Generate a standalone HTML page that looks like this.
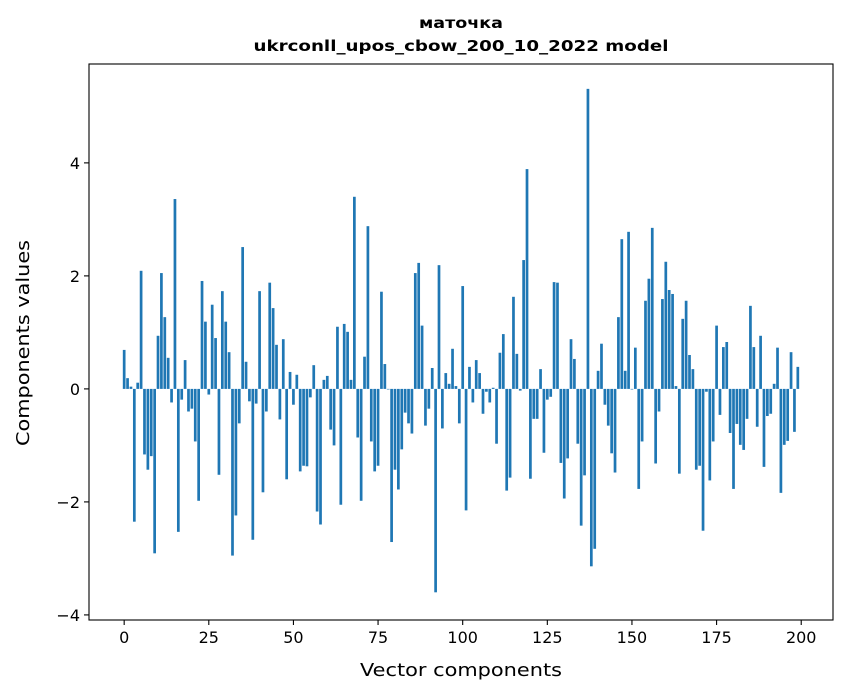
<!DOCTYPE html>
<html><head><meta charset="utf-8"><style>
body{margin:0;background:#fff;font-family:"DejaVu Sans","Liberation Sans",sans-serif;}
</style></head><body>
<svg id="chart" width="847" height="696" xmlns="http://www.w3.org/2000/svg" font-family="DejaVu Sans, Liberation Sans, sans-serif">
<rect width="847" height="696" fill="#fff"/>
<text x="461" y="28" text-anchor="middle" font-size="15" font-weight="bold" textLength="84" lengthAdjust="spacingAndGlyphs">маточка</text>
<text x="461" y="51" text-anchor="middle" font-size="15" font-weight="bold" textLength="415" lengthAdjust="spacingAndGlyphs">ukrconll_upos_cbow_200_10_2022 model</text>
<g id="bars"></g>
<g id="axes"></g>
<text x="461" y="676" text-anchor="middle" font-size="18" textLength="202" lengthAdjust="spacingAndGlyphs">Vector components</text>
<text transform="translate(29,343) rotate(-90)" text-anchor="middle" font-size="18" textLength="206" lengthAdjust="spacingAndGlyphs">Components values</text>
</svg>
<script>
const values = [0.69,0.19,0.04,-2.35,0.11,2.09,-1.16,-1.43,-1.19,-2.91,0.94,2.05,1.27,0.55,-0.24,3.36,-2.53,-0.19,0.51,-0.40,-0.35,-0.93,-1.98,1.91,1.19,
-0.10,1.49,0.90,-1.52,1.73,1.19,0.65,-2.95,-2.24,-0.61,2.51,0.48,-0.22,-2.67,-0.26,1.73,-1.83,-0.40,1.88,1.43,0.78,-0.54,0.88,-1.60,0.30,
-0.28,0.25,-1.46,-1.36,-1.37,-0.15,0.42,-2.17,-2.40,0.16,0.23,-0.72,-1.00,1.10,-2.05,1.15,1.01,0.16,3.40,-0.86,-1.98,0.57,2.88,-0.93,-1.46,
-1.36,1.72,0.44,-0.01,-2.71,-1.43,-1.78,-1.07,-0.42,-0.61,-0.79,2.05,2.23,1.12,-0.65,-0.35,0.37,-3.60,2.19,-0.70,0.28,0.09,0.71,0.05,-0.61,
1.82,-2.15,0.39,-0.24,0.51,0.28,-0.44,-0.05,-0.24,0.02,-0.97,0.64,0.97,-1.80,-1.57,1.63,0.62,-0.03,2.28,3.89,-1.59,-0.53,-0.53,0.35,-1.13,
-0.19,-0.14,1.89,1.88,-1.31,-1.94,-1.23,0.88,0.53,-0.97,-2.42,-1.53,5.31,-3.14,-2.83,0.32,0.80,-0.28,-0.65,-1.14,-1.48,1.27,2.65,0.32,2.78,
-0.01,0.73,-1.77,-0.93,1.56,1.95,2.85,-1.32,-0.40,1.59,2.25,1.75,1.68,0.05,-1.50,1.24,1.56,0.60,0.35,-1.43,-1.36,-2.51,-0.05,-1.62,-0.93,
1.12,-0.46,0.74,0.83,-0.78,-1.77,-0.62,-0.99,-1.08,-0.53,1.47,0.74,-0.67,0.94,-1.38,-0.48,-0.44,0.09,0.73,-1.84,-0.99,-0.92,0.65,-0.76,0.39];
const xTicks = [0,25,50,75,100,125,150,175,200];
const yTicks = [-4,-2,0,2,4];
const yTickLabels = ["\u22124","\u22122","0","2","4"];

const L=89,R=833,T=64,B=620;
const xMin=-10.39,xMax=209.39,yMin=-4.09,yMax=5.75;
const sx=v=>L+(v-xMin)/(xMax-xMin)*(R-L);
const sy=v=>B-(v-yMin)/(yMax-yMin)*(B-T);
const NS="http://www.w3.org/2000/svg";
const bars=document.getElementById('bars');
values.forEach((v,i)=>{
  const r=document.createElementNS(NS,'rect');
  const x0=sx(i-0.4),x1=sx(i+0.4);
  const y0=sy(Math.max(v,0)),y1=sy(Math.min(v,0));
  r.setAttribute('x',x0);r.setAttribute('width',x1-x0);
  r.setAttribute('y',y0);r.setAttribute('height',Math.max(y1-y0,0.1));
  r.setAttribute('fill','#1f77b4');
  
  
  bars.appendChild(r);
});
const ax=document.getElementById('axes');
function el(tag,attrs,txt){const e=document.createElementNS(NS,tag);for(const k in attrs)e.setAttribute(k,attrs[k]);if(txt!==undefined)e.textContent=txt;ax.appendChild(e);return e;}
const frame=el('rect',{x:L,y:T,width:R-L,height:B-T,fill:'none',stroke:'#000','stroke-width':1.1});


xTicks.forEach(t=>{
  const x=sx(t);
  const tk=el('line',{x1:x,x2:x,y1:B,y2:B+5,stroke:'#000','stroke-width':1.1});
  
  
  const lb=el('text',{x:x,y:B+23,'text-anchor':'middle','font-size':16},String(t));
  
  
});
yTicks.forEach((t,i)=>{
  const y=sy(t);
  const tk=el('line',{x1:L-5,x2:L,y1:y,y2:y,stroke:'#000','stroke-width':1.1});
  
  
  const lb=el('text',{x:L-9,y:y+6,'text-anchor':'end','font-size':16},yTickLabels[i]);
  
  
});
</script>
</body></html>
